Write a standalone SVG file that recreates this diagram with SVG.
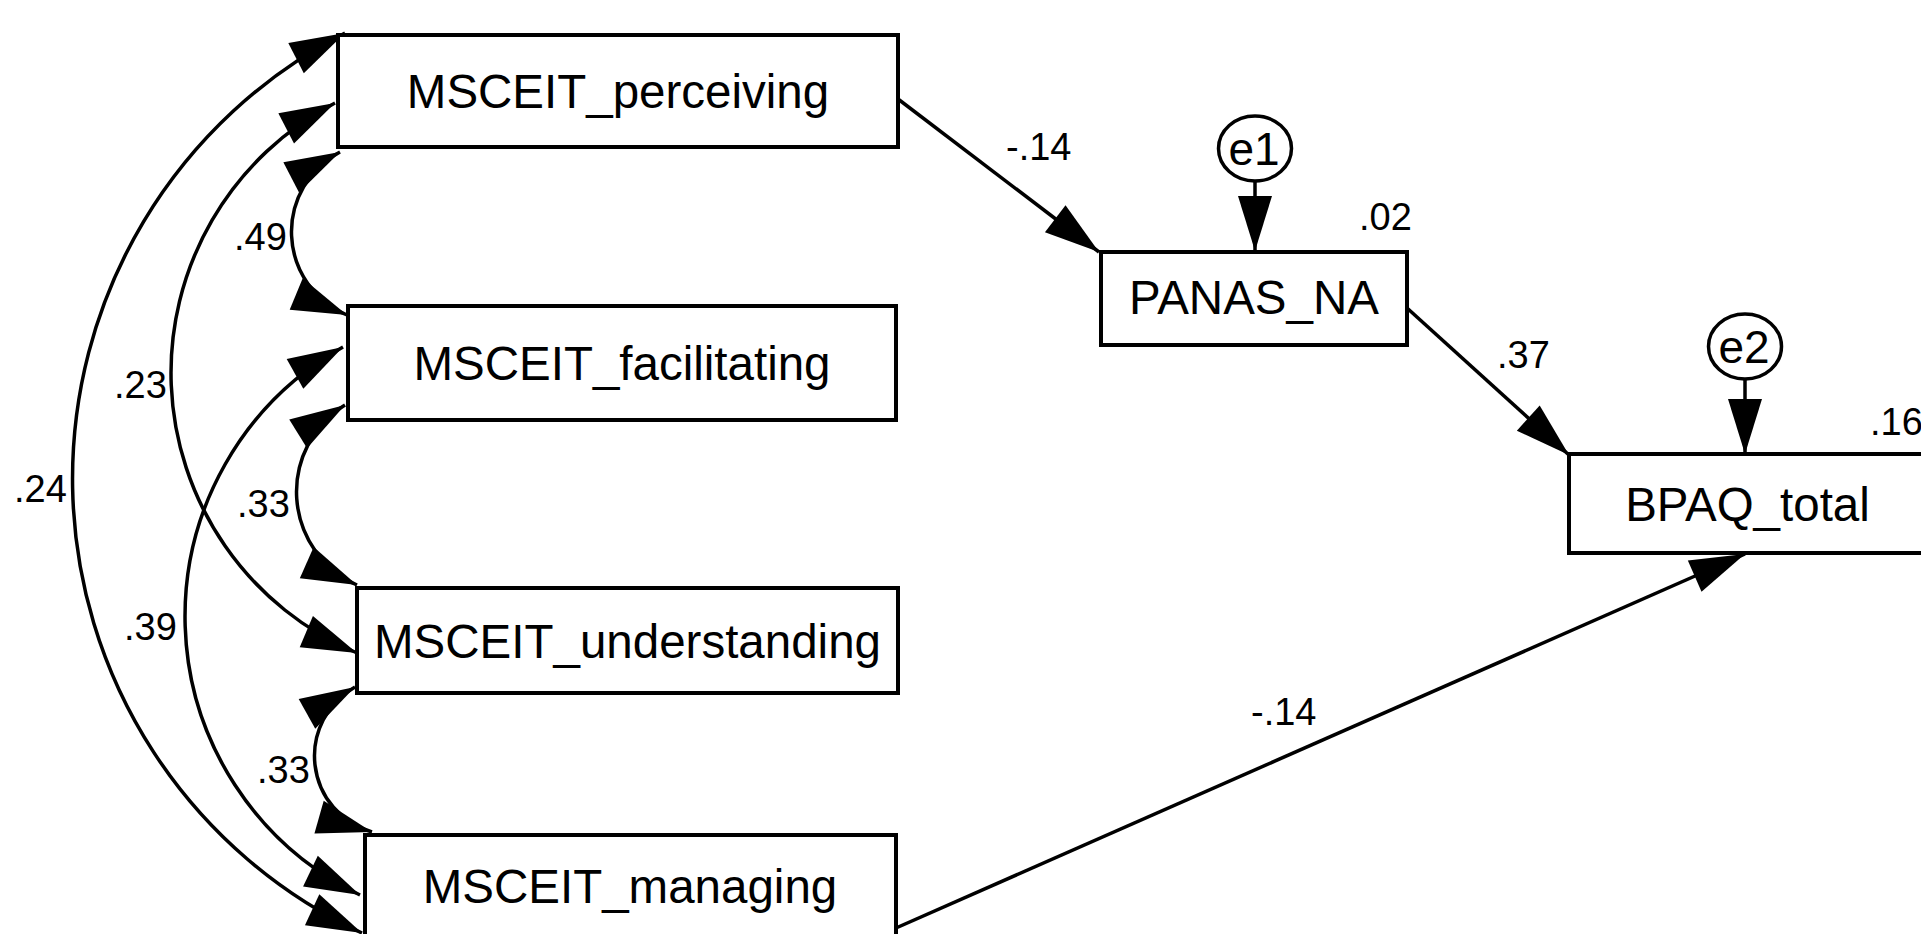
<svg xmlns="http://www.w3.org/2000/svg" width="1921" height="934" viewBox="0 0 1921 934">
<style>
.box{fill:#fff;stroke:#000;stroke-width:4}
.err{fill:#fff;stroke:#000;stroke-width:3.5}
.lbl{font-family:"Liberation Sans",Arial,sans-serif;font-size:47.5px;fill:#000;text-anchor:middle}
.elbl{font-family:"Liberation Sans",Arial,sans-serif;font-size:46px;fill:#000;text-anchor:middle}
.num{font-family:"Liberation Sans",Arial,sans-serif;font-size:38px;fill:#000}
.path{fill:none;stroke:#000;stroke-width:3.5;marker-end:url(#ah)}
.cov{fill:none;stroke:#000;stroke-width:3.5;marker-end:url(#ah);marker-start:url(#ahs)}
</style>
<defs>
<marker id="ah" markerUnits="userSpaceOnUse" viewBox="-57 -19 59 38" markerWidth="59" markerHeight="38" refX="0" refY="0" orient="auto">
<path d="M0,0 L-55,-17 L-55,17 Z" fill="#000"/>
</marker>
<marker id="ahs" markerUnits="userSpaceOnUse" viewBox="-57 -19 59 38" markerWidth="59" markerHeight="38" refX="0" refY="0" orient="auto-start-reverse">
<path d="M0,0 L-55,-17 L-55,17 Z" fill="#000"/>
</marker>
</defs>
<rect width="1921" height="934" fill="#fff"/>
<g id="connectors">
<path class="cov" d="M345,33 A501,501 0 0 0 362,933"/>
<path class="cov" d="M335,103 A304,304 0 0 0 357,653"/>
<path class="cov" d="M340,152 A90,90 0 0 0 347,315"/>
<path class="cov" d="M345,405 A102,102 0 0 0 357,585"/>
<path class="cov" d="M343,347 A309,309 0 0 0 360,895"/>
<path class="cov" d="M355,687 A79,79 0 0 0 372,832"/>
<path class="path" d="M898,99 L1099,252"/>
<path class="path" d="M1407,308 L1569,455"/>
<path class="path" d="M896,928 L1745,554"/>
<path class="path" d="M1255,181 L1255,251"/>
<path class="path" d="M1745,379 L1745,454"/>
</g>
<g id="perceiving"><rect class="box" x="338" y="35" width="560" height="112"/><text class="lbl" x="618" y="108">MSCEIT_perceiving</text></g>
<g id="facilitating"><rect class="box" x="348" y="306" width="548" height="114"/><text class="lbl" x="622" y="380">MSCEIT_facilitating</text></g>
<g id="understanding"><rect class="box" x="357" y="588" width="541" height="105"/><text class="lbl" x="627.5" y="657.5">MSCEIT_understanding</text></g>
<g id="managing"><rect class="box" x="365" y="835" width="531" height="104"/><text class="lbl" x="630" y="903">MSCEIT_managing</text></g>
<g id="panas"><rect class="box" x="1101" y="252" width="306" height="93"/><text class="lbl" x="1254" y="314">PANAS_NA</text></g>
<g id="bpaq"><rect class="box" x="1569" y="454" width="360" height="99"/><text class="lbl" x="1747.5" y="521">BPAQ_total</text></g>
<g id="e1"><ellipse class="err" cx="1255" cy="148.5" rx="36.5" ry="32.5"/><text class="elbl" x="1254" y="165">e1</text></g>
<g id="e2"><ellipse class="err" cx="1745" cy="346.5" rx="36.5" ry="32.5"/><text class="elbl" x="1744" y="363">e2</text></g>
<g id="labels">
<text class="num" x="234" y="250">.49</text>
<text class="num" x="114" y="398">.23</text>
<text class="num" x="14" y="502">.24</text>
<text class="num" x="237" y="517">.33</text>
<text class="num" x="124" y="640">.39</text>
<text class="num" x="257" y="783">.33</text>
<text class="num" x="1006" y="160">-.14</text>
<text class="num" x="1359" y="230">.02</text>
<text class="num" x="1497" y="368">.37</text>
<text class="num" x="1870" y="435">.16</text>
<text class="num" x="1251" y="725">-.14</text>
</g>
</svg>
